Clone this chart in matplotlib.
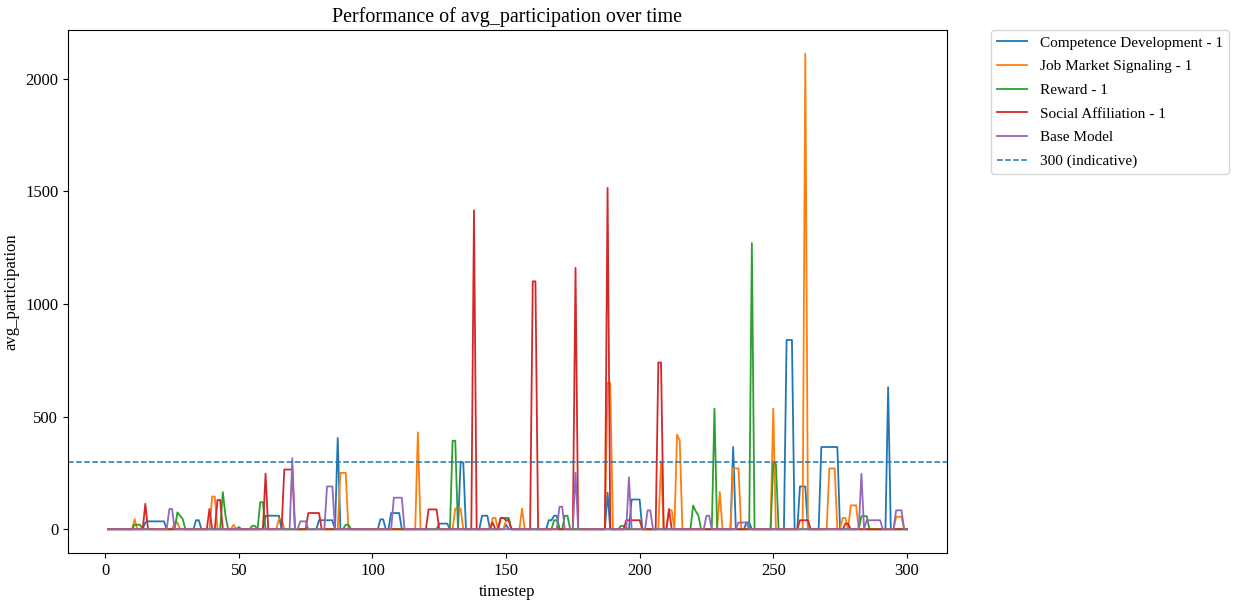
import numpy as np
import matplotlib
matplotlib.use("Agg")
import matplotlib.pyplot as plt

plt.rcParams['font.family'] = ['Liberation Serif', 'DejaVu Serif']
plt.rcParams['font.size'] = 12

timesteps = np.arange(1, 301)

# sparse non-zero readings (timestep -> value); all other timesteps are 0
comp_t = [15, 16, 17, 18, 19, 20, 21, 22, 34, 35, 60, 61, 62, 63, 64, 65, 80, 81, 82, 83, 84, 85, 87,
          103, 104, 107, 108, 109, 110, 125, 126, 127, 128, 133, 134, 141, 142, 143, 150,
          166, 167, 168, 169, 188, 197, 198, 199, 200, 235, 240, 241, 255, 256, 257,
          260, 261, 262, 268, 269, 270, 271, 272, 273, 274, 293]
comp_v = [30, 35, 35, 35, 35, 35, 35, 35, 40, 40, 60, 60, 60, 60, 60, 60, 40, 40, 40, 40, 40, 40, 405,
          44, 44, 72, 72, 72, 72, 25, 25, 25, 25, 300, 295, 60, 60, 60, 20,
          40, 40, 60, 60, 162, 132, 132, 132, 132, 365, 30, 30, 840, 840, 840,
          190, 190, 190, 365, 365, 365, 365, 365, 365, 365, 630]

job_t = [11, 26, 27, 40, 41, 48, 65, 66, 88, 89, 90, 117, 131, 132, 133, 145, 146, 150, 151, 156,
         188, 189, 208, 211, 212, 214, 215, 230, 235, 236, 237, 250, 262,
         271, 272, 273, 276, 277, 279, 280, 281, 296, 297, 298]
job_v = [45, 30, 30, 145, 145, 20, 45, 45, 250, 250, 250, 430, 92, 92, 92, 50, 50, 40, 40, 92,
         650, 650, 300, 84, 84, 420, 395, 165, 270, 270, 270, 535, 2110,
         270, 270, 270, 50, 50, 106, 106, 106, 55, 55, 55]

rew_t = [11, 12, 13, 27, 28, 29, 44, 45, 50, 55, 56, 58, 59, 90, 91, 130, 131,
         148, 149, 150, 151, 168, 169, 172, 173, 193, 194, 220, 221, 222, 228, 242,
         250, 251, 283, 284, 285]
rew_v = [20, 20, 20, 75, 60, 45, 165, 60, 10, 15, 15, 120, 120, 20, 20, 393, 393,
         50, 50, 50, 50, 40, 40, 60, 60, 15, 15, 105, 80, 60, 535, 1270,
         290, 290, 58, 58, 58]

soc_t = [15, 39, 42, 43, 60, 67, 68, 69, 70, 76, 77, 78, 79, 80, 121, 122, 123, 124, 138, 145,
         148, 149, 150, 151, 160, 161, 176, 188, 195, 196, 197, 198, 199, 200, 207, 208, 211,
         260, 261, 262, 263, 277, 278]
soc_v = [113, 90, 130, 130, 247, 265, 265, 265, 265, 72, 72, 72, 72, 72, 88, 88, 88, 88, 1415, 30,
         50, 50, 40, 40, 1100, 1100, 1160, 1515, 40, 40, 40, 40, 40, 40, 740, 740, 90,
         40, 40, 40, 40, 25, 25]

base_t = [24, 25, 70, 73, 74, 75, 83, 84, 85, 108, 109, 110, 111, 170, 171, 176, 196,
          203, 204, 225, 226, 237, 238, 239, 240, 283, 285, 286, 287, 288, 289, 290, 296, 297, 298]
base_v = [90, 90, 315, 35, 35, 35, 190, 190, 190, 140, 140, 140, 140, 100, 100, 250, 230,
          84, 84, 60, 60, 30, 30, 30, 30, 246, 40, 40, 40, 40, 40, 40, 84, 84, 84]

labels = ['Competence Development - 1', 'Job Market Signaling - 1', 'Reward - 1',
          'Social Affiliation - 1', 'Base Model']
reference_value = 300


def build(ts, vs):
    y = np.zeros(len(timesteps))
    for t, v in zip(ts, vs):
        y[t - 1] = v
    return y


series = [build(comp_t, comp_v), build(job_t, job_v), build(rew_t, rew_v),
          build(soc_t, soc_v), build(base_t, base_v)]

fig = plt.figure(figsize=(12.36, 6.04), dpi=100)
ax = fig.add_axes([0.055, 0.0844, 0.711, 0.8659])
for y, lab in zip(series, labels):
    ax.plot(timesteps, y, label=lab, linewidth=1.3)
ax.axhline(reference_value, color='C0', linestyle='--', linewidth=1.1, label='300 (indicative)')
ax.set_title('Performance of avg_participation over time')
ax.set_xlabel('timestep')
ax.set_ylabel('avg_participation')
ax.legend(loc='upper left', bbox_to_anchor=(1.05, 1), borderaxespad=0, fontsize=11,
          labelspacing=0.65)
fig.savefig('out.png', dpi=100)
